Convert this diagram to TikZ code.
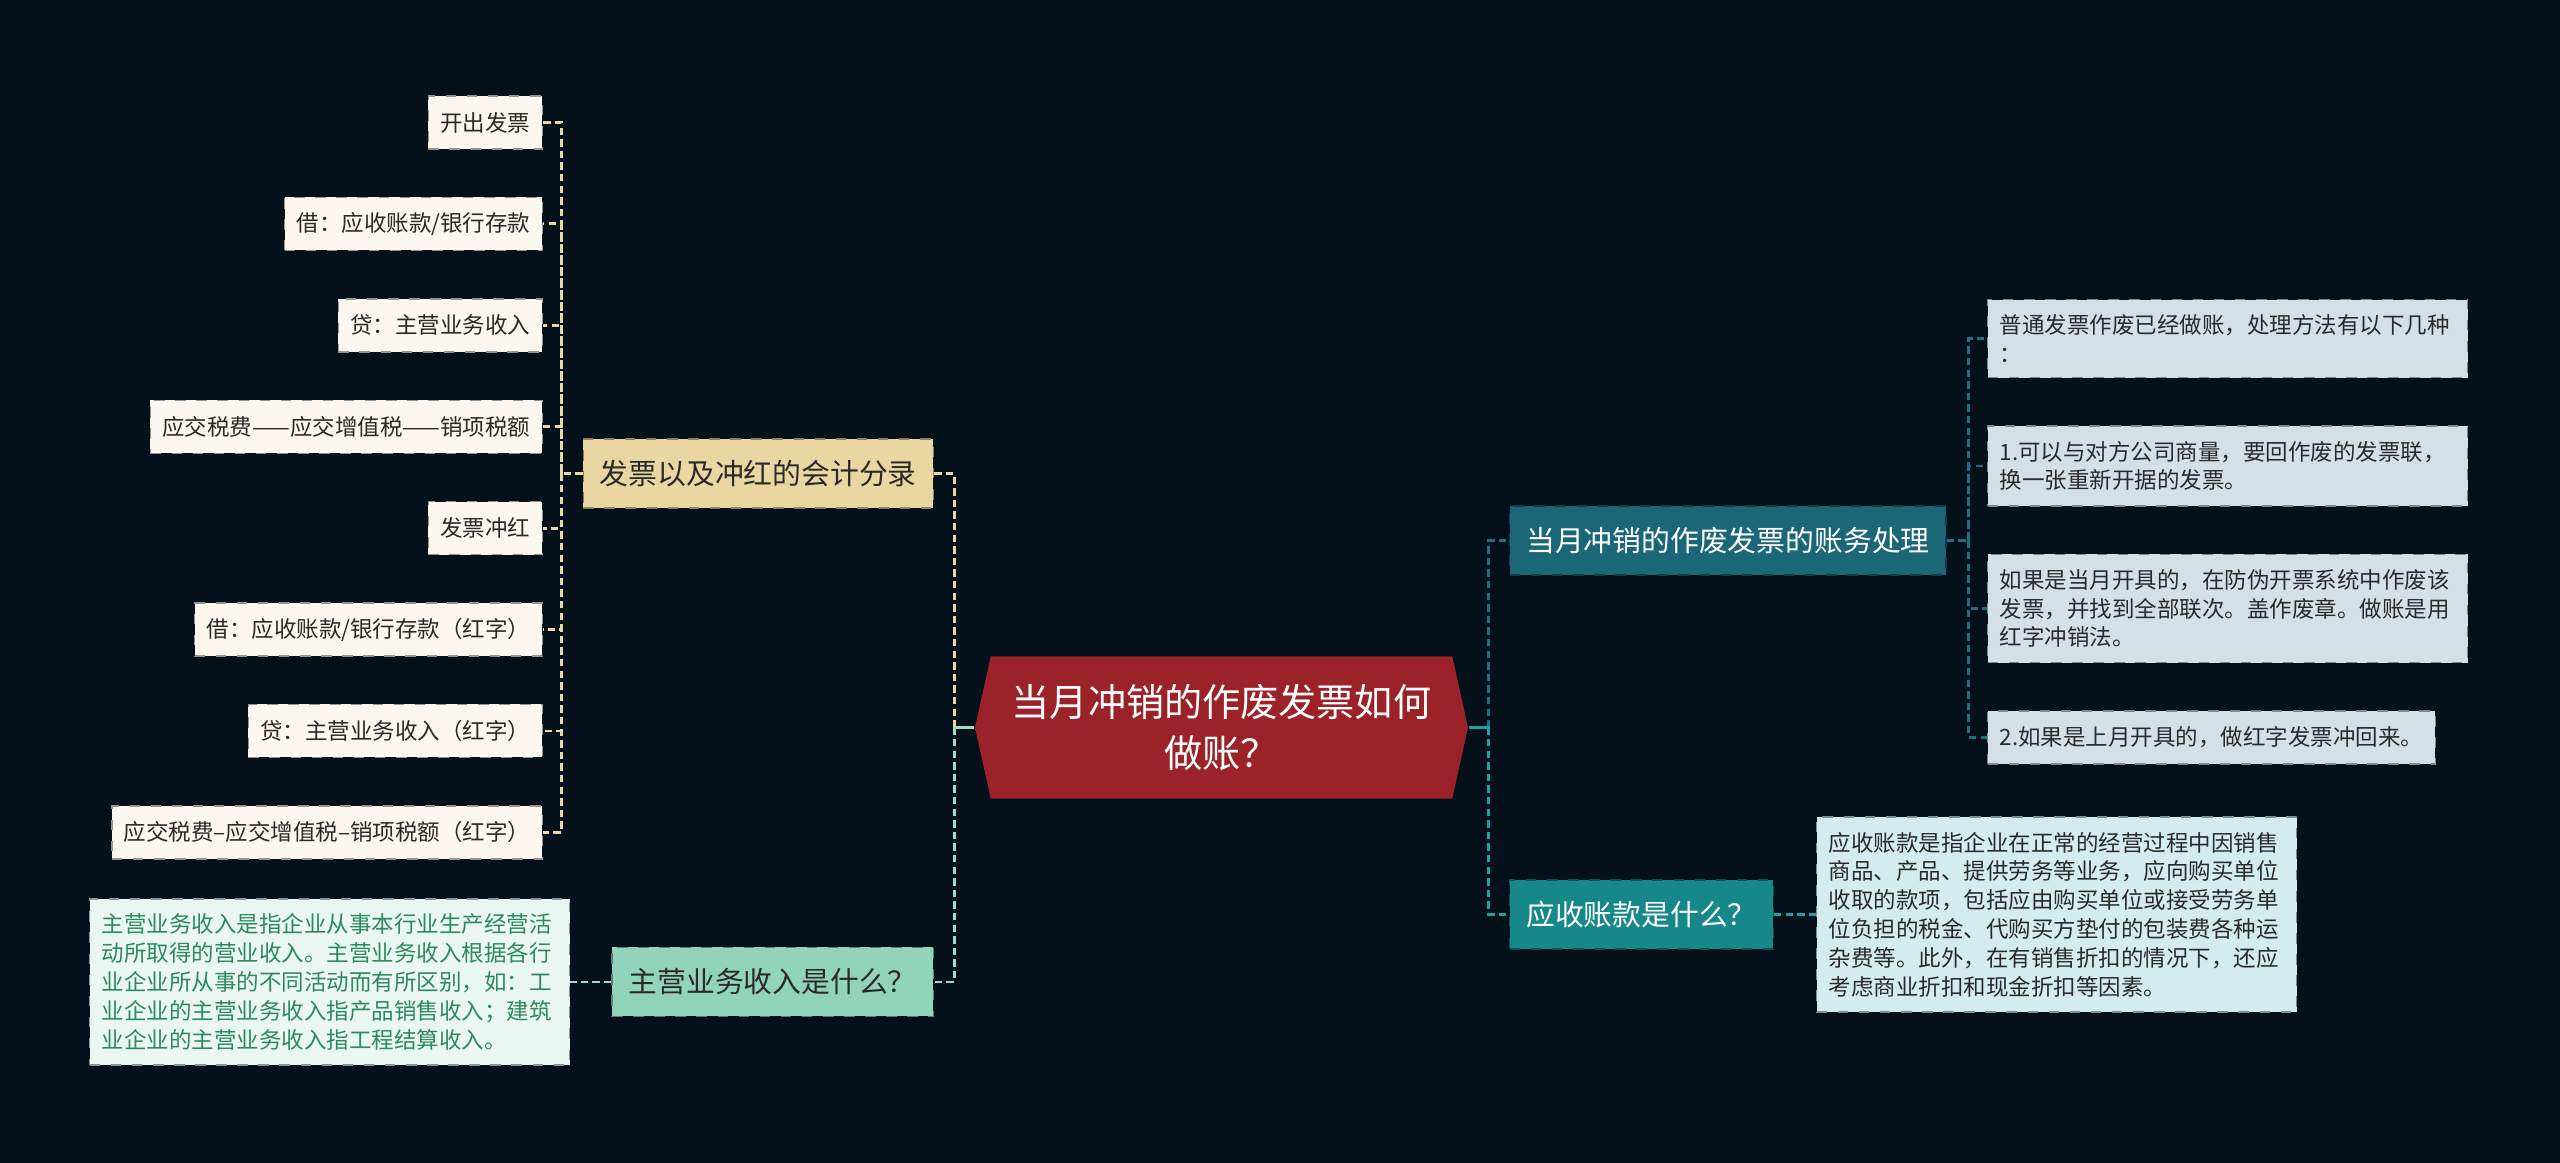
\documentclass[tikz,border=0pt]{standalone}
\usepackage{fontspec}
\setmainfont{Noto Sans CJK SC}
\usepackage{tikz}
\usetikzlibrary{positioning,shapes.symbols}
\definecolor{bgc}{HTML}{04111A}
\definecolor{rootc}{HTML}{9B2228}
\definecolor{tanc}{HTML}{E9D6A0}
\definecolor{creamc}{HTML}{FBF7EE}
\definecolor{mintc}{HTML}{92D3BB}
\definecolor{greenfill}{HTML}{EAF6F1}
\definecolor{greentext}{HTML}{2D8A5E}
\definecolor{dtealc}{HTML}{1B6677}
\definecolor{greyblue}{HTML}{D3E1E7}
\definecolor{tealc}{HTML}{17888A}
\definecolor{cyanfill}{HTML}{D4ECEF}
\definecolor{inkc}{HTML}{2A2A2A}
\definecolor{tanl}{HTML}{E8D8A8}
\definecolor{mintl}{HTML}{A3DCC6}
\definecolor{dtl}{HTML}{1F7083}
\definecolor{tl}{HTML}{1FA2A4}
\tikzset{
  link/.style={draw=#1,line width=0.8pt,dash pattern=on 2.1pt off 1.2pt},
  rootnode/.style={shape=signal,signal to=west and east,signal pointer angle=155,
    fill=rootc,text=white,align=center,font=\fontsize{10.85pt}{14.7pt}\selectfont,
    inner xsep=2.1mm,inner ysep=2.76mm},
  cat/.style={draw=#1!60!black,dashed,fill=#1,text=inkc,
    font=\fontsize{8.2pt}{10pt}\selectfont,inner xsep=1.65mm,inner ysep=0pt,minimum height=6.9mm},
  leaf/.style={draw=#1!60!black,dashed,fill=#1,text=inkc,
    font=\fontsize{6.4pt}{8.2pt}\selectfont,inner xsep=1.2mm,inner ysep=0pt,minimum height=5.3mm},
  note/.style={leaf=#1,align=left,text width=45.6mm,inner ysep=1.5mm},
}
\begin{document}
\begin{tikzpicture}[x=0.1mm,y=-0.1mm,node distance=4.7mm]
\useasboundingbox (0,0) rectangle (2560,1163);
\fill[bgc] (0,0) rectangle (2560,1163);
\node[rootnode] (root) at (1221.5,727.5) {当月冲销的作废发票如何\\做账？};
% left branch
\node[cat=tanc,anchor=east] (acct) at (934,473.5) {发票以及冲红的会计分录};
\node[cat=mintc,anchor=east] (inc) at (934,982) {主营业务收入是什么？};
\node[note=greenfill,text=greentext,left=4.1mm of inc] (incdesc)
  {主营业务收入是指企业从事本行业生产经营活\\动所取得的营业收入。主营业务收入根据各行\\业企业所从事的不同活动而有所区别，如：工\\业企业的主营业务收入指产品销售收入；建筑\\业企业的主营业务收入指工程结算收入。};
\node[leaf=creamc,anchor=east] (a1) at (543,122.5) {开出发票};
\node[leaf=creamc,below=of a1.south east,anchor=north east] (a2) {借：应收账款/银行存款};
\node[leaf=creamc,below=of a2.south east,anchor=north east] (a3) {贷：主营业务收入};
\node[leaf=creamc,below=of a3.south east,anchor=north east] (a4) {应交税费——应交增值税——销项税额};
\node[leaf=creamc,below=of a4.south east,anchor=north east] (a5) {发票冲红};
\node[leaf=creamc,below=of a5.south east,anchor=north east] (a6) {借：应收账款/银行存款（红字）};
\node[leaf=creamc,below=of a6.south east,anchor=north east] (a7) {贷：主营业务收入（红字）};
\node[leaf=creamc,below=of a7.south east,anchor=north east] (a8) {应交税费–应交增值税–销项税额（红字）};
% right branch
\node[cat=dtealc,text=white,anchor=west] (proc) at (1509,540.5) {当月冲销的作废发票的账务处理};
\node[cat=tealc,text=white,anchor=west] (recv) at (1509,914.5) {应收账款是什么？};
\node[note=cyanfill,right=4.2mm of recv] (recvdesc)
  {应收账款是指企业在正常的经营过程中因销售\\商品、产品、提供劳务等业务，应向购买单位\\收取的款项，包括应由购买单位或接受劳务单\\位负担的税金、代购买方垫付的包装费各种运\\杂费等。此外，在有销售折扣的情况下，还应\\考虑商业折扣和现金折扣等因素。};
\node[note=greyblue,anchor=north west] (p1) at (1987,299) {普通发票作废已经做账，处理方法有以下几种\\：};
\node[note=greyblue,below=of p1.south west,anchor=north west] (p2) {1.可以与对方公司商量，要回作废的发票联，\\换一张重新开据的发票。};
\node[note=greyblue,below=of p2.south west,anchor=north west] (p3) {如果是当月开具的，在防伪开票系统中作废该\\发票，并找到全部联次。盖作废章。做账是用\\红字冲销法。};
\node[leaf=greyblue,below=of p3.south west,anchor=north west] (p4) {2.如果是上月开具的，做红字发票冲回来。};
% connectors
\coordinate (lj) at ([xshift=-2mm]root.west);
\coordinate (rj) at ([xshift=2mm]root.east);
\coordinate (aj) at ([xshift=-2.1mm]acct.west);
\coordinate (pj) at ([xshift=2.2mm]proc.east);
\draw[link=tanl] (lj) |- (acct.east);
\draw[link=mintl] (lj) |- (inc.east);
\draw[link=mintl,solid] (root.west) -- (lj);
\draw[link=tanl] (acct.west) -- (aj) |- (a1.east) (aj) |- (a2.east) (aj) |- (a3.east)
  (aj) |- (a4.east) (aj) |- (a5.east) (aj) |- (a6.east) (aj) |- (a7.east) (aj) |- (a8.east);
\draw[link=mintl] (inc.west) -- (incdesc.east);
\draw[link=dtl] (rj) |- (proc.west);
\draw[link=tl] (rj) |- (recv.west);
\draw[link=tl,solid] (root.east) -- (rj);
\draw[link=dtl] (proc.east) -- (pj) |- (p1.west) (pj) |- (p2.west) (pj) |- (p3.west) (pj) |- (p4.west);
\draw[link=tl] (recv.east) -- (recvdesc.west);
\end{tikzpicture}
\end{document}
